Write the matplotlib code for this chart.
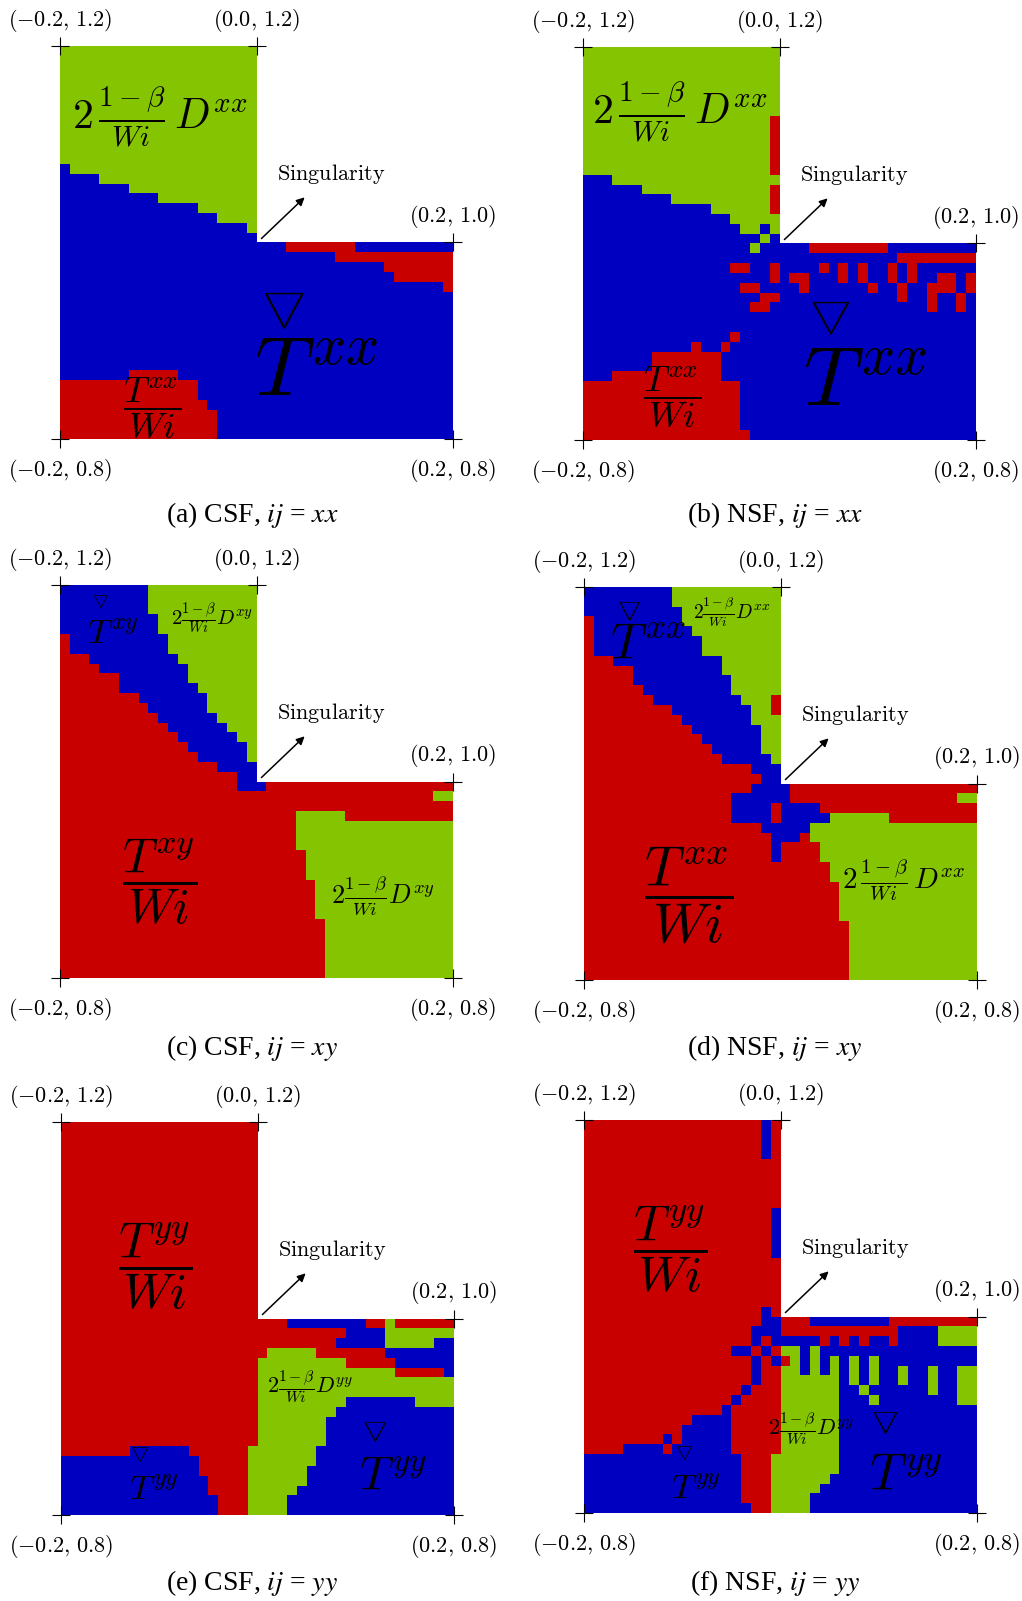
import numpy as np
import matplotlib.pyplot as plt
from matplotlib.colors import ListedColormap

plt.rcParams['mathtext.fontset'] = 'cm'

# dominant term in each cell, rows from the top (y=1.2) to the bottom (y=0.8), 40 cells of 0.01
# R = T/Wi, B = upper convected T, G = 2(1-beta)/Wi D ; rows 0-19 only cover -0.2 < x < 0
# "17R 3B" = 17 red then 3 blue, "*5" = same row 5 times
grid_a = ["20G*12", "1B 19G", "4B 16G", "7B 13G", "10B 10G", "14B 6G", "16B 4G", "19B 1G", "20B",
          "23B 7R 10B", "28B 12R", "33B 7R", "34B 6R", "39B 1R", "40B*8",
          "7B 5R 28B", "14R 26B*2", "15R 25B", "16R 24B*3"]

grid_b = ["20G*7", "19G 1R*6", "3B 17G", "6B 13G 1R", "9B 10G 1R", "13B 6G 1R", "15B 5G",
          "16B 2G 1B 1G", "18B 1G 1B",
          "17B 1G 5B 8R 9B", "32B 8R",
          "15B 2R 2B 1R 4B 1R 1B 1R 1B 1R 2B 1R 1B 1R 6B",
          "19B 1R 1B 2R 3B 1R 1B 1R 2B 1R 1B 1R 2B 2R 1B 1R",
          "16B 2R 4B 1R 6B 1R 2B 1R 2B 3R 1B 1R",
          "18B 2R 12B 1R 2B 1R 2B 1R 1B",
          "17B 2R 16B 1R 2B 1R 1B",
          "40B*2", "15B 1R 24B", "11B 1R 2B 1R 25B", "7B 7R 26B*2", "3B 11R 26B",
          "16R 24B*5", "17R 23B"]

grid_c = ["9B 11G*3", "10B 10G*2", "1R 10B 9G*2", "3R 9B 8G", "4R 9B 7G", "6R 7B 7G", "6R 8B 6G",
          "8R 7B 5G", "9R 6B 5G", "10R 6B 4G", "11R 6B 3G", "12R 6B 2G", "13R 6B 1G", "14R 5B 1G",
          "16R 4B", "18R 2B",
          "18R 3B 19R", "38R 2G", "40R", "24R 5G 11R", "24R 16G*3", "25R 15G*3", "26R 14G*4",
          "27R 13G*6"]

grid_d = ["9B 11G*2", "10B 10G", "1R 9B 10G", "1R 10B 9G", "1R 11B 8G*2", "3R 11B 6G", "5R 9B 6G",
          "5R 10B 5G", "6R 9B 5G", "7R 9B 3G 1R", "9R 8B 2G 1R", "10R 7B 3G", "11R 7B 2G",
          "12R 6B 2G", "13R 5B 2G", "14R 5B 1G", "17R 3B", "18R 2B",
          "17R 4B 19R", "15R 6B 17R 2G", "15R 4B 1R 4B 16R", "15R 4B 1R 5B 6G 9R", "18R 5B 17G",
          "19R 3B 1R 17G", "19R 1B 4R 16G*2", "25R 15G*2", "26R 14G*4", "27R 13G*6"]

grid_e = ["20R*20",
          "23R 8B 2R 1G 6R", "29R 4B 7G", "28R 5B 5G 2B", "21R 5G 7R 7B", "20R 9G 5R 6B",
          "20R 14G 5R 1B", "20R 20G*2", "20R 9G 7B 4G", "20R 8G 12B", "20R 7G 13B*3",
          "7R 6B 6R 7G 14B", "14B 5R 7G 14B", "14B 5R 6G 15B", "15B 4R 6G 15B", "15B 4R 5G 16B",
          "16B 3R 4G 17B*2"]

grid_f = ["18R 1B 1R*4", "20R*5", "19R 1B*5", "20R*5", "18R 1B 1R",
          "18R 2B 3R 8B 9R", "17R 3B 12R 4B 4G",
          "17R 1B 1R 5B 1R 1B 1R 1B 1R 2B 1R 4B 4G",
          "15R 2B 1R 1B 1R 2G 1B 1G 16B",
          "17R 1B 1R 1B 1R 1G 1B 1G 1B 1G 1B 1G 1B 1G 10B",
          "17R 1B 2R 2G 1B 1G 1B 1G 1B 1G 1B 1G 2B 1G 2B 1G 2B 2G",
          "17R 1B 2R 6G 1B 1G 1B 1G 2B 1G 2B 1G 2B 2G",
          "16R 1B 3R 6G 2B 1G 6B 1G 2B 2G",
          "15R 1B 4R 6G 3B 1G 8B 2G",
          "14R 1B 5R 6G 14B", "11R 4B 5R 6G 14B", "10R 5B 5R 6G 14B",
          "8R 1B 1R 5B 5R 6G 14B", "4R 4B 1R 6B 5R 6G 14B",
          "16B 3R 7G 14B*2", "16B 3R 6G 15B", "16B 3R 5G 16B", "16B 3R 4G 17B", "17B 2R 4G 17B"]

grids = [grid_a, grid_b, grid_c, grid_d, grid_e, grid_f]
tags = ['(a)', '(b)', '(c)', '(d)', '(e)', '(f)']
schemes = ['CSF', 'NSF', 'CSF', 'NSF', 'CSF', 'NSF']
comps = ['xx', 'xx', 'xy', 'xy', 'yy', 'yy']

corner_x = [-0.2, 0.0, 0.2, -0.2, 0.2]
corner_y = [1.2, 1.2, 1.0, 0.8, 0.8]
corner_txt = [r'$(-0.2,\,1.2)$', r'$(0.0,\,1.2)$', r'$(0.2,\,1.0)$', r'$(-0.2,\,0.8)$', r'$(0.2,\,0.8)$']
corner_up = [True, True, True, False, False]

RED, BLUE, GREEN = '#c80000', '#0000c0', '#85c400'
cmap = ListedColormap([RED, BLUE, GREEN])
code = {'R': 0, 'B': 1, 'G': 2, '.': np.nan}


def expand(rows):
    out = []
    for spec in rows:
        rep = 1
        if '*' in spec:
            spec, rep = spec.split('*')
            rep = int(rep)
        cells = ''.join(int(t[:-1]) * t[-1] for t in spec.split())
        cells = cells.ljust(40, '.')
        out += [cells] * rep
    return out


TRI = r'$\bigtriangledown$'
# text, x, y, fontsize  (data coordinates of each panel)
labels = [
    [(r'$2\,\frac{1-\beta}{Wi}\,D^{xx}$', -0.098, 1.128, 30), (TRI, 0.027, 0.934, 36),
     (r'$T^{xx}$', 0.061, 0.868, 60), (r'$\dfrac{T^{xx}}{Wi}$', -0.106, 0.831, 26)],
    [(r'$2\,\frac{1-\beta}{Wi}\,D^{xx}$', -0.101, 1.134, 30), (TRI, 0.051, 0.928, 34),
     (r'$T^{xx}$', 0.087, 0.859, 60), (r'$\dfrac{T^{xx}}{Wi}$', -0.109, 0.843, 26)],
    [(TRI, -0.159, 1.184, 13), (r'$T^{xy}$', -0.146, 1.151, 25),
     (r'$2\frac{1-\beta}{Wi}D^{xy}$', -0.045, 1.165, 15),
     (r'$\dfrac{T^{xy}}{Wi}$', -0.099, 0.898, 35), (r'$2\frac{1-\beta}{Wi}D^{xy}$', 0.129, 0.884, 19)],
    [(TRI, -0.154, 1.177, 19), (r'$T^{xx}$', -0.135, 1.142, 36),
     (r'$2\frac{1-\beta}{Wi}D^{xx}$', -0.050, 1.174, 14),
     (r'$\dfrac{T^{xx}}{Wi}$', -0.094, 0.886, 40), (r'$2\,\frac{1-\beta}{Wi}\,D^{xx}$', 0.125, 0.902, 21)],
    [(r'$\dfrac{T^{yy}}{Wi}$', -0.104, 1.053, 36), (r'$2\frac{1-\beta}{Wi}D^{yy}$', 0.053, 0.930, 16),
     (TRI, 0.119, 0.887, 20), (r'$T^{yy}$', 0.138, 0.839, 34),
     (TRI, -0.120, 0.862, 15), (r'$T^{yy}$', -0.105, 0.826, 25)],
    [(r'$\dfrac{T^{yy}}{Wi}$', -0.112, 1.069, 36), (r'$2\frac{1-\beta}{Wi}D^{yy}$', 0.031, 0.886, 16),
     (TRI, 0.106, 0.893, 22), (r'$T^{yy}$', 0.128, 0.838, 37),
     (TRI, -0.098, 0.862, 14), (r'$T^{yy}$', -0.086, 0.825, 25)],
]

W, H = 1022, 1601
SIDE = 393
panel_px = [(60, 46), (583, 47), (60, 585), (584, 587), (61, 1122), (584, 1120)]
caption_px = [(252, 515), (775, 515), (252, 1048), (775, 1048), (252, 1583), (775, 1583)]

fig = plt.figure(figsize=(W / 100, H / 100), dpi=100)
xe = np.linspace(-0.2, 0.2, 41)
ye = np.linspace(1.2, 0.8, 41)

for k in range(6):
    L, T = panel_px[k]
    ax = fig.add_axes([L / W, 1 - (T + SIDE) / H, SIDE / W, SIDE / H])
    rows = expand(grids[k])
    assert len(rows) == 40, (k, len(rows))
    Z = np.array([[code[c] for c in r] for r in rows])
    ax.pcolormesh(xe, ye, np.ma.masked_invalid(Z), cmap=cmap, vmin=-0.5, vmax=2.5,
                  shading='flat', antialiased=False, linewidth=0)
    ax.set_xlim(-0.2, 0.2)
    ax.set_ylim(0.8, 1.2)
    ax.axis('off')

    ax.plot(corner_x, corner_y, '+', color='k', ms=13, mew=0.8, clip_on=False)
    for cx, cy, t, up in zip(corner_x, corner_y, corner_txt, corner_up):
        ax.annotate(t, (cx, cy), xytext=(0, 18.5 if up else -23), textcoords='offset points',
                    ha='center', va='center', fontsize=16)

    ax.annotate('', xy=(0.049, 1.046), xytext=(0.005, 1.004),
                arrowprops=dict(arrowstyle='-|>', color='k', lw=1.1, mutation_scale=12,
                                shrinkA=0, shrinkB=0))
    ax.text(0.076, 1.070, r'$\mathrm{Singularity}$', ha='center', va='center', fontsize=16)

    for t, x, y, s in labels[k]:
        ax.text(x, y, t, ha='center', va='center', fontsize=s)

    cx, cy = caption_px[k]
    fig.text(cx / W, 1 - cy / H, tags[k] + ' ' + schemes[k] + ', $ij$ = $' + comps[k] + '$',
             ha='center', va='center', fontsize=20, family='Liberation Serif',
             math_fontfamily='stix')

fig.savefig('out.png', dpi=100, facecolor='white')
